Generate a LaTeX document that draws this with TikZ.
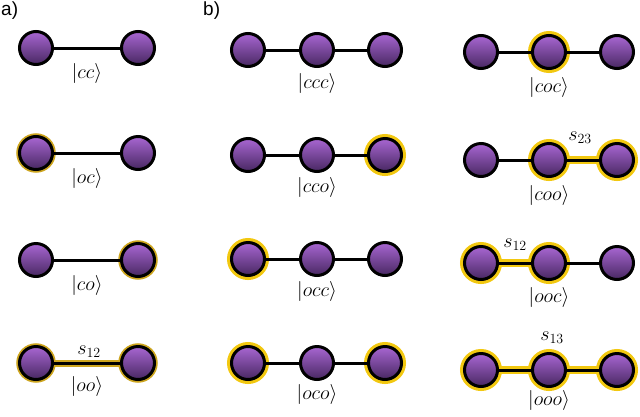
\RequirePackage{fix-cm}
\documentclass[tikz,border=0pt]{standalone}
\usepackage{fontspec}
\newfontfamily\labfont{Liberation Sans}
\definecolor{pTop}{RGB}{168,102,210}
\definecolor{pBot}{RGB}{72,40,98}
\definecolor{gold}{RGB}{242,200,16}
\definecolor{golda}{RGB}{205,165,30}
\begin{document}
\begin{tikzpicture}[x=1pt,y=-1pt,
 site/.style={circle, draw=black, line width=3pt, minimum size=33pt, inner sep=0pt, top color=pTop, bottom color=pBot},
 occ/.style={site, preaction={draw=gold, line width=9pt}},
 occa/.style={site, preaction={draw=golda, line width=6.5pt}},
 bond/.style={line width=3pt},
 hbond/.style={line width=3pt, preaction={draw=gold, line width=8pt}},
 hbonda/.style={line width=3pt, preaction={draw=golda, line width=7pt}},
 ket/.style={font=\fontsize{20}{24}\selectfont, inner sep=0pt},
 plab/.style={font=\labfont\fontsize{19}{22}\selectfont, inner sep=0pt, anchor=north west}]
\useasboundingbox (0,0) rectangle (640,416);
\node[plab] (la) at (1,2) {a)};
\node[plab] (lb) at (203,2) {b)};
% ---- panel a
\node[site] (a11) at (36,48) {};
\node[site] (a12) at (138,48) {};
\draw[bond] (a11) -- (a12);
\node[ket] (ka1) at (87,73) {$|cc\rangle$};
\node[occa] (a21) at (36,153) {};
\node[site] (a22) at (138,153) {};
\draw[bond] (a21) -- (a22);
\node[ket] (ka2) at (87,178) {$|oc\rangle$};
\node[site] (a31) at (36,260) {};
\node[occa] (a32) at (138,260) {};
\draw[bond] (a31) -- (a32);
\node[ket] (ka3) at (87,285) {$|co\rangle$};
\node[occa] (a41) at (36,363) {};
\node[occa] (a42) at (138,363) {};
\draw[hbonda] (a41) -- (a42);
\node[ket] (sa4) at (89,352) {$s_{12}$};
\node[ket] (ka4) at (87,386) {$|oo\rangle$};
% ---- panel b, column 1
\node[site] (b11) at (248,50) {};
\node[site] (b12) at (317,50) {};
\node[site] (b13) at (385,50) {};
\draw[bond] (b11) -- (b12); \draw[bond] (b12) -- (b13);
\node[ket] (kb1) at (317,83) {$|ccc\rangle$};
\node[site] (b21) at (248,155) {};
\node[site] (b22) at (317,155) {};
\node[occ] (b23) at (385,155) {};
\draw[bond] (b21) -- (b22); \draw[bond] (b22) -- (b23);
\node[ket] (kb2) at (317,187) {$|cco\rangle$};
\node[occ] (b31) at (248,259) {};
\node[site] (b32) at (317,259) {};
\node[site] (b33) at (385,259) {};
\draw[bond] (b31) -- (b32); \draw[bond] (b32) -- (b33);
\node[ket] (kb3) at (317,291) {$|occ\rangle$};
\node[occ] (b41) at (248,363) {};
\node[site] (b42) at (317,363) {};
\node[occ] (b43) at (385,363) {};
\draw[bond] (b41) -- (b42); \draw[bond] (b42) -- (b43);
\node[ket] (kb4) at (317,394) {$|oco\rangle$};
% ---- panel b, column 2
\node[site] (c11) at (481,52) {};
\node[occ] (c12) at (549,52) {};
\node[site] (c13) at (617,52) {};
\draw[bond] (c11) -- (c12); \draw[bond] (c12) -- (c13);
\node[ket] (kc1) at (549,87) {$|coc\rangle$};
\node[site] (c21) at (481,160) {};
\node[occ] (c22) at (549,160) {};
\node[occ] (c23) at (617,160) {};
\draw[bond] (c21) -- (c22); \draw[hbond] (c22) -- (c23);
\node[ket] (sc2) at (580,138) {$s_{23}$};
\node[ket] (kc2) at (549,195) {$|coo\rangle$};
\node[occ] (c31) at (481,263) {};
\node[occ] (c32) at (549,263) {};
\node[site] (c33) at (617,263) {};
\draw[hbond] (c31) -- (c32); \draw[bond] (c32) -- (c33);
\node[ket] (sc3) at (515,245) {$s_{12}$};
\node[ket] (kc3) at (549,297) {$|ooc\rangle$};
\node[occ] (c41) at (481,370) {};
\node[occ] (c42) at (549,370) {};
\node[occ] (c43) at (617,370) {};
\draw[hbond] (c41) -- (c42); \draw[hbond] (c42) -- (c43);
\node[ket] (sc4) at (552,338) {$s_{13}$};
\node[ket] (kc4) at (549,400) {$|ooo\rangle$};
\end{tikzpicture}
\end{document}
